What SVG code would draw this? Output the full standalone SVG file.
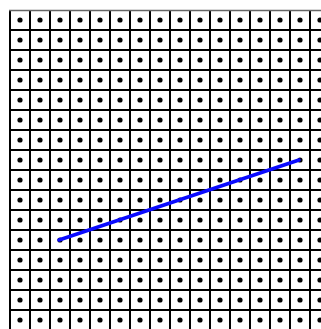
<svg xmlns="http://www.w3.org/2000/svg" width="321" height="329" viewBox="0 0 321 329">
<defs>
<style>
.grid{stroke:#000;stroke-width:2;fill:none}
.dot{fill:#000}
.seg{stroke:#0a0aff;stroke-width:3.5;stroke-linecap:round;fill:none}
</style>
<pattern id="dots" x="10" y="10" width="20" height="20" patternUnits="userSpaceOnUse">
<circle class="dot" cx="10" cy="10" r="2.6"/>
</pattern>
</defs>
<rect width="321" height="329" fill="#fff"/>
<g id="dots-layer">
<rect x="10" y="10" width="311" height="319" fill="url(#dots)"/>
</g>
<g id="grid">
<path class="grid" d="M10,10V329M30,10V329M50,10V329M70,10V329M90,10V329M110,10V329M130,10V329M150,10V329M170,10V329M190,10V329M210,10V329M230,10V329M250,10V329M270,10V329M290,10V329M310,10V329"/>
<path class="grid" d="M9,30H321M9,50H321M9,70H321M9,90H321M9,110H321M9,130H321M9,150H321M9,170H321M9,190H321M9,210H321M9,230H321M9,250H321M9,270H321M9,290H321M9,310H321"/>
<path d="M9,10.5H321" stroke="#666" stroke-width="1.5" fill="none"/>
</g>
<g id="connectors">
<line class="seg" x1="59" y1="240" x2="299" y2="160"/>
</g>
</svg>
